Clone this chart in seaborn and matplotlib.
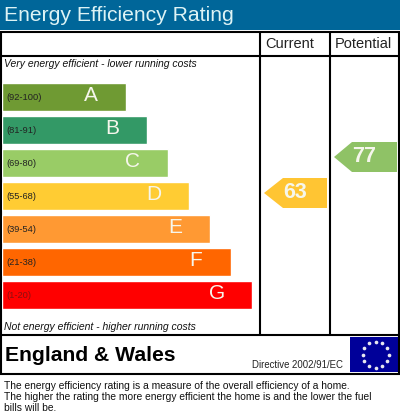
import numpy as np
import pandas as pd
import matplotlib
matplotlib.use('Agg')
import matplotlib.pyplot as plt
import seaborn as sns

# Donnees du graphique
bands = ['A', 'B', 'C', 'D', 'E', 'F', 'G']
ranges = ['(92-100)', '(81-91)', '(69-80)', '(55-68)', '(39-54)', '(21-38)', '(1-20)']
bar_lengths = [124, 145, 166, 187, 208, 229, 250]
bar_colors = ['#6F9A33', '#339966', '#99CC66', '#FFCC33', '#FF9933', '#FF6600', '#FF0000']
range_colors = ['#222222'] * 6 + ['#8B1010']
current_rating = 63
potential_rating = 77
rating_colors = {'current': '#FFC533', 'potential': '#8FC266'}

W, H = 400, 419
PX_PER_RATING = 36 / 14
RATING_AT_TOP = current_rating + 193 / PX_PER_RATING

sns.set_theme(style='white')
plt.rcParams['font.family'] = ['Liberation Sans', 'DejaVu Sans']

fig = plt.figure(figsize=(W / 100, H / 100), dpi=100, facecolor='white')

# Axe en pixels pour le cadre et les textes
ax = fig.add_axes([0, 0, 1, 1])
ax.set_xlim(0, W)
ax.set_ylim(H, 0)
ax.axis('off')

ax.fill_between([0, W], 0, 30, color='#006699', lw=0)
ax.text(4, 15.5, 'Energy Efficiency Rating', color='#DDF3F5', fontsize=15.2,
        ha='left', va='center')

# Cadre
for y, x0, x1 in [(32.5, 0, W), (56.5, 0, W), (334.5, 0, W), (374, 0, W)]:
    ax.plot([x0, x1], [y, y], color='black', lw=1.5, solid_capstyle='butt')
for x, y0, y1 in [(0.7, 32, 374), (399.2, 32, 374), (260, 32, 335), (330, 32, 335)]:
    ax.plot([x, x], [y0, y1], color='black', lw=1.5, solid_capstyle='butt')

ax.text(290, 44, 'Current', color='#222222', fontsize=10.5, ha='center', va='center')
ax.text(363, 44, 'Potential', color='#222222', fontsize=10.5, ha='center', va='center')
ax.text(4, 64, 'Very energy efficient - lower running costs', fontsize=7.5,
        style='italic', color='#111111', va='center')
ax.text(3.5, 327, 'Not energy efficient - higher running costs', fontsize=7.5,
        style='italic', color='#111111', va='center')

ax.text(5, 355, 'England & Wales', fontsize=15.2, fontweight='bold', color='black', va='center')
ax.text(252, 365, 'Directive 2002/91/EC', fontsize=6.95, color='#222222', va='center')

# Drapeau europeen
ax.fill_between([350, 398], 337, 372, color='#000099', lw=0)
angles = np.linspace(0, 2 * np.pi, 12, endpoint=False)
ax.scatter(375.5 + 13 * np.cos(angles), 354.5 + 13 * np.sin(angles), s=7, marker='o',
           color='#E8E8F0', linewidths=0, zorder=3)

ax.text(3.5, 386, 'The energy efficiency rating is a measure of the overall efficiency of a home.',
        fontsize=7.35, color='#111111', va='center')
ax.text(3.5, 397, 'The higher the rating the more energy efficient the home is and the lower the fuel',
        fontsize=7.35, color='#111111', va='center')
ax.text(3.5, 408, 'bills will be.', fontsize=7.35, color='#111111', va='center')

# Barres des bandes
bar_top, bar_bottom = 80.5, 311.5
bar_ax = fig.add_axes([2 / W, 1 - bar_bottom / H, 256 / W, (bar_bottom - bar_top) / H])
bar_df = pd.DataFrame({'band': bands, 'length': bar_lengths})
sns.barplot(data=bar_df, x='length', y='band', hue='band', palette=bar_colors,
            order=bands, dodge=False, legend=False, width=28 / 33, saturation=1, ax=bar_ax)
bar_ax.set_xlim(0, 256)
bar_ax.set_ylim(6.5, -0.5)
bar_ax.axis('off')
bar_ax.patch.set_alpha(0)

for i, (band, rng, length) in enumerate(zip(bands, ranges, bar_lengths)):
    bar_ax.text(4.5, i + 0.02, rng, fontsize=6.7, color=range_colors[i], va='center', ha='left')
    bar_ax.text(length - 35, i - 0.05, band, fontsize=15, color='#F6F6EC', va='center', ha='center')

# Fleches de notation, placees sur une echelle de notes
rating_ax = fig.add_axes([0, 0, 1, 1])
rating_ax.set_xlim(0, W)
rating_ax.set_ylim(RATING_AT_TOP - H / PX_PER_RATING, RATING_AT_TOP)
rating_ax.axis('off')
rating_ax.patch.set_alpha(0)


def draw_rating(value, tip, neck, right, color):
    half = 15 / PX_PER_RATING
    rating_ax.fill([tip, neck, right, right, neck],
                   [value, value + half, value + half, value - half, value - half],
                   color=color, lw=0)
    rating_ax.text((neck + right) / 2 - 10, value, str(value), fontsize=15.5, fontweight='bold',
                   color='#F6F6EC', ha='center', va='center')


draw_rating(current_rating, 264, 283, 327, rating_colors['current'])
draw_rating(potential_rating, 334, 352, 397, rating_colors['potential'])

fig.savefig('out.png', dpi=100, facecolor='white')
